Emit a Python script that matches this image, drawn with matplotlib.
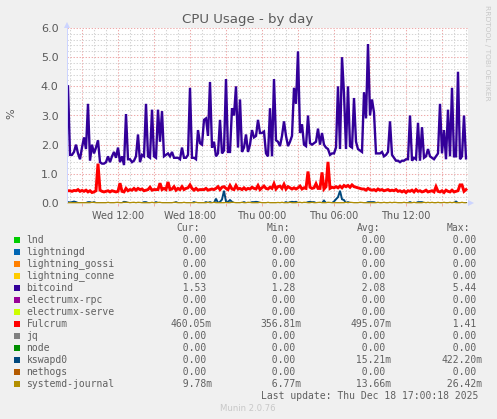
"""Munin style CPU usage graph, by day."""

import matplotlib
matplotlib.use("Agg")
import matplotlib.pyplot as plt
from matplotlib.patches import Polygon, Rectangle
from matplotlib.ticker import FixedLocator, FuncFormatter
import numpy as np

W, H = 497, 419
BG = "#f0f0f0"
TXT = "#5a5a5a"

# minutes since Wed 00:00 of the first sample, samples every 10 minutes
T_START = 470
T_STEP = 10

bitcoind = [
    4.0, 1.65, 1.65, 1.75, 2.0, 1.7, 1.5, 1.9, 2.25, 1.85,
    3.4, 1.45, 2.0, 1.7, 1.9, 2.15, 1.4, 1.35, 1.35, 1.4,
    1.6, 1.4, 1.6, 1.75, 1.55, 1.9, 1.4, 1.6, 1.3, 3.05,
    1.5, 1.5, 1.4, 1.45, 1.6, 2.35, 1.4, 1.65, 1.6, 3.4,
    1.6, 1.55, 3.2, 1.6, 1.55, 3.2, 2.1, 3.15, 1.6, 1.65,
    1.7, 1.6, 1.75, 1.55, 1.55, 1.55, 1.5, 1.9, 1.55, 1.55,
    1.65, 3.95, 1.55, 1.55, 1.5, 2.5, 2.05, 2.0, 2.85, 2.9,
    2.3, 4.15, 1.9, 2.1, 1.6, 1.7, 2.85, 1.7, 1.8, 4.25,
    1.75, 1.75, 3.25, 3.0, 4.0, 1.9, 3.55, 1.75, 1.9, 2.35,
    1.75, 2.0, 2.5, 2.25, 2.3, 2.85, 2.4, 2.4, 2.45, 1.7,
    1.6, 3.25, 1.6, 4.25, 2.15, 2.1, 1.95, 2.3, 2.8, 2.3,
    1.95, 2.1, 2.3, 3.95, 3.4, 5.2, 2.4, 2.7, 2.0, 1.95,
    3.0, 2.05, 2.0, 2.05, 2.1, 2.55, 2.0, 2.4, 2.0, 1.9,
    1.85, 1.65, 1.7, 1.7, 1.9, 4.0, 1.85, 5.0, 3.75, 1.85,
    4.0, 1.95, 1.9, 3.6, 2.1, 1.85, 1.8, 1.75, 3.8, 2.9,
    5.45, 3.0, 3.55, 3.1, 1.7, 1.7, 1.7, 1.75, 1.6, 1.65,
    1.75, 2.8, 1.65, 1.55, 1.45, 1.45, 1.4, 1.45, 1.45, 1.5,
    1.5, 3.0, 1.45, 1.55, 1.5, 2.75, 1.45, 2.6, 1.55, 1.6,
    1.85, 1.6, 1.55, 1.5, 1.6, 1.7, 3.4, 1.7, 2.5, 1.5,
    3.2, 1.6, 3.95, 1.6, 1.6, 4.5, 1.5, 1.6, 3.0, 1.53,
]

fulcrum = [
    .42, .42, .40, .43, .42, .46, .40, .43, .40, .44,
    .38, .42, .36, .38, .42, 1.35, .44, .40, .38, .40,
    .42, .38, .42, .40, .38, .40, .68, .40, .38, .50,
    .42, .46, .44, .50, .44, .50, .46, .48, .42, .44,
    .46, .54, .44, .46, .46, .46, .68, .46, .50, .46,
    .72, .46, .48, .56, .44, .50, .46, .56, .46, .50,
    .52, .62, .50, .44, .50, .44, .46, .46, .46, .50,
    .44, .46, .48, .46, .50, .56, .46, .54, .56, .50,
    .46, .60, .48, .46, .60, .48, .50, .46, .52, .46,
    .50, .48, .54, .50, .48, .60, .46, .52, .58, .50,
    .48, .54, .50, .66, .48, .56, .58, .50, .64, .48,
    .56, .52, .48, .52, .48, .52, .58, .48, .52, .50,
    1.08, .54, .50, .52, .66, .50, .50, 1.05, .48, .56,
    1.41, .50, .54, .52, .56, .52, .58, .52, .60, .56,
    .60, .54, .62, .56, .54, .52, .50, .48, .48, .44,
    .50, .46, .44, .46, .42, .48, .44, .46, .42, .44,
    .46, .42, .44, .42, .46, .40, .42, .38, .42, .36,
    .42, .40, .44, .38, .46, .40, .42, .38, .40, .44,
    .38, .40, .42, .38, .56, .40, .38, .42, .36, .44,
    .40, .38, .44, .38, .40, .42, .62, .62, .40, .46,
]

kswapd0 = [
    .03, .02, .03, .05, .03, 0, 0, 0, 0, 0,
    .03, .03, 0, .03, 0, 0, 0, 0, 0, 0,
    0, 0, 0, 0, 0, 0, 0, 0, .04, .03,
    0, 0, 0, 0, 0, 0, 0, 0, .03, .03,
    0, 0, 0, 0, .03, 0, 0, 0, 0, 0,
    0, 0, 0, 0, .03, 0, 0, 0, 0, 0,
    0, 0, 0, .03, 0, 0, 0, 0, 0, .03,
    0, .03, 0, 0, .15, 0, .04, .12, .42, .05,
    .04, .10, .04, 0, 0, 0, 0, 0, .03, 0,
    0, 0, .03, .03, .04, .03, 0, 0, 0, 0,
    0, 0, 0, 0, 0, 0, 0, 0, 0, .03,
    0, .03, .04, .03, .04, 0, 0, 0, 0, 0,
    .03, .04, .03, .03, 0, 0, 0, 0, .08, 0,
    0, 0, 0, .05, .13, .20, .42, .13, .10, 0,
    .03, 0, 0, 0, 0, 0, 0, 0, 0, 0,
    .03, .03, .03, .03, 0, 0, 0, 0, 0, 0,
    0, 0, 0, 0, 0, 0, 0, 0, 0, 0,
    0, .03, 0, 0, 0, .03, .03, .03, 0, 0,
    0, 0, 0, 0, 0, 0, 0, 0, 0, 0,
    0, 0, 0, 0, .05, 0, 0, 0, 0, 0,
]

systemd_journal = [
    .01, .01, .01, .01, .01, .01, .01, .01, .01, .01,
    .01, .01, .026, .02, .01, .01, .01, .01, .01, .01,
    .026, .01, .01, .01, .02, .026, .01, .01, .026, .02,
    .026, .01, .02, .026, .01, .026, .02, .01, .01, .01,
    .01, .01, .026, .01, .01, .02, .026, .01, .01, .01,
    .01, .01, .01, .026, .02, .01, .01, .01, .026, .01,
    .01, .01, .01, .01, .026, .01, .01, .01, .01, .01,
    .026, .01, .01, .026, .01, .01, .01, .01, .01, .02,
    .01, .01, .026, .02, .01, .01, .01, .026, .01, .01,
    .026, .02, .01, .01, .01, .01, .026, .01, .01, .01,
    .026, .01, .01, .01, .01, .02, .01, .026, .01, .01,
    .01, .026, .01, .01, .01, .02, .026, .01, .026, .02,
    .01, .01, .026, .01, .01, .02, .026, .01, .01, .01,
    .026, .02, .01, .01, .01, .01, .01, .01, .01, .026,
    .01, .026, .02, .01, .01, .01, .026, .02, .01, .01,
    .01, .01, .01, .01, .01, .026, .01, .01, .026, .01,
    .01, .026, .01, .026, .02, .01, .01, .01, .026, .01,
    .01, .01, .01, .026, .01, .01, .01, .01, .026, .01,
    .026, .01, .026, .01, .01, .026, .01, .01, .026, .01,
    .01, .026, .01, .026, .01, .01, .01, .026, .01, .01,
]

names = ["lnd", "lightningd", "lightning_gossi", "lightning_conne", "bitcoind",
         "electrumx-rpc", "electrumx-serve", "Fulcrum", "jq", "node",
         "kswapd0", "nethogs", "systemd-journal"]
colors = ["#00CC00", "#0066B3", "#FF8000", "#FFCC00", "#330099",
          "#990099", "#CCFF00", "#FF0000", "#808080", "#008F00",
          "#00487D", "#B35A00", "#B38F00"]
cur = ["0.00", "0.00", "0.00", "0.00", "1.53", "0.00", "0.00", "460.05m",
       "0.00", "0.00", "0.00", "0.00", "9.78m"]
mins = ["0.00", "0.00", "0.00", "0.00", "1.28", "0.00", "0.00", "356.81m",
        "0.00", "0.00", "0.00", "0.00", "6.77m"]
avgs = ["0.00", "0.00", "0.00", "0.00", "2.08", "0.00", "0.00", "495.07m",
        "0.00", "0.00", "15.21m", "0.00", "13.66m"]
maxs = ["0.00", "0.00", "0.00", "0.00", "5.44", "0.00", "0.00", "1.41",
        "0.00", "0.00", "422.20m", "0.00", "26.42m"]

tick_minutes = [720, 1080, 1440, 1800, 2160]
tick_labels = ["Wed 12:00", "Wed 18:00", "Thu 00:00", "Thu 06:00", "Thu 12:00"]


def fx(x):
    return x / W


def fy(y):
    return 1 - y / H


def put(x, y, s, **kw):
    kw.setdefault("color", TXT)
    kw.setdefault("va", "center")
    return fig.text(fx(x), fy(y), s, **kw)


def mono(x, y, s):
    put(x, y, s, family="DejaVu Sans Mono", fontsize=7.05, color="#606060")


def cell(s):
    # numbers line up on the dot, the m suffix hangs out to the right
    if not s.endswith("m"):
        s += " "
    return f"{s:>7}"


fig = plt.figure(figsize=(W / 100, H / 100), dpi=100, facecolor=BG)
ax = fig.add_axes([fx(67), fy(203), fx(401), 175 / H], facecolor="white")

t = T_START + T_STEP * np.arange(len(bitcoind))
zero = np.zeros(len(t))
series = {"bitcoind": bitcoind, "Fulcrum": fulcrum, "kswapd0": kswapd0,
          "systemd-journal": systemd_journal}
line_widths = {"bitcoind": 1.7, "Fulcrum": 2.1, "kswapd0": 1.4}
for name, color in zip(names, colors):
    ax.plot(t, series.get(name, zero), color=color, lw=line_widths.get(name, 0.9),
            zorder=3, solid_joinstyle="miter", clip_on=name != "systemd-journal")

ax.set_xlim(465, 465 + 401 * 5)
ax.set_ylim(0, 6)
ax.xaxis.set_major_locator(FixedLocator(np.arange(540, 2470, 180)))
ax.xaxis.set_minor_locator(FixedLocator(np.arange(480, 2470, 60)))
ax.yaxis.set_major_locator(FixedLocator(np.arange(0, 6.5, 1)))
ax.yaxis.set_minor_locator(FixedLocator(np.arange(0, 6.1, 0.2)))
ax.grid(True, which="minor", color="#d4d4d4", lw=0.75, ls=(0, (1.3, 1.6)), zorder=1)
ax.grid(True, which="major", color="#eeaaaa", lw=0.75, ls=(0, (1.3, 1.6)), zorder=2)
ax.set_axisbelow(True)
for sp in ax.spines.values():
    sp.set_visible(False)
ax.tick_params(axis="x", which="major", length=2, width=0.7, color="#eeaaaa",
               labelbottom=False, pad=2)
ax.tick_params(axis="x", which="minor", length=0)
ax.tick_params(axis="y", which="both", length=0, labelcolor=TXT, labelsize=8, pad=6)
ax.yaxis.set_major_formatter(FuncFormatter(lambda v, pos: f"{v:.1f}"))

# time labels, placed through the axis scale
for m, lab in zip(tick_minutes, tick_labels):
    ax.annotate(lab, (m, 0), xytext=(0, -9.2), textcoords="offset points",
                ha="center", va="center", fontsize=7, color=TXT, annotation_clip=False)

# light blue axis arrows
arrow = "#ccd4ff"
fig.add_artist(Rectangle((fx(66.5), fy(203)), 1 / W, 175 / H, color=arrow,
                         transform=fig.transFigure, lw=0))
fig.add_artist(Polygon([(fx(64), fy(28)), (fx(70), fy(28)), (fx(67), fy(22))],
                       color=arrow, transform=fig.transFigure, lw=0))
fig.add_artist(Polygon([(fx(468), fy(200)), (fx(468), fy(206)), (fx(474), fy(203))],
                       color=arrow, transform=fig.transFigure, lw=0))

put(248, 19, "CPU Usage - by day", ha="center", fontsize=9.6)
put(11, 114, "%", rotation=90, ha="center", fontsize=8)
put(487, 53, "RRDTOOL / TOBI OETIKER", rotation=270, ha="center", fontsize=5.4,
    color="#c8c8c8")

mono(176.7, 228, "Cur:")
mono(266.3, 228, "Min:")
mono(357, 228, "Avg:")
mono(447, 228, "Max:")
for i, name in enumerate(names):
    y = 239.8 + 12 * i
    fig.add_artist(Rectangle((fx(14), fy(y + 3)), 6 / W, 6 / H, color=colors[i],
                             transform=fig.transFigure, lw=0))
    mono(26.5, y, name)
    mono(170.7, y, cell(cur[i]))
    mono(260.3, y, cell(mins[i]))
    mono(350.3, y, cell(avgs[i]))
    mono(441, y, cell(maxs[i]))

mono(261, 395.8, "Last update: Thu Dec 18 17:00:18 2025")
put(248, 408, "Munin 2.0.76", ha="center", fontsize=6.1, color="#c8c8c8")

fig.savefig("out.png", dpi=100, facecolor=BG)
